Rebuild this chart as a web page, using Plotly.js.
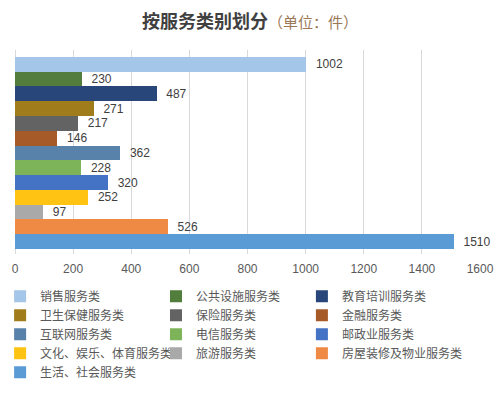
<!DOCTYPE html>
<html>
<head>
<meta charset="utf-8">
<script src="https://cdn.plot.ly/plotly-3.0.1.min.js"></script>
<style>html,body{margin:0;padding:0;background:#fff;}#chart{width:500px;height:398px;}</style>
</head>
<body>
<div id="chart"></div>
<script>
var categories = ["销售服务类","公共设施服务类","教育培训服务类","卫生保健服务类","保险服务类","金融服务类","互联网服务类","电信服务类","邮政业服务类","文化、娱乐、体育服务类","旅游服务类","房屋装修及物业服务类","生活、社会服务类"];
var values = [1002, 230, 487, 271, 217, 146, 362, 228, 320, 252, 97, 526, 1510];
var colors = ["#a4c6e8","#527d3c","#284679","#a07d1a","#636363","#a65a28","#5882aa","#7db45a","#4472c4","#ffc313","#a9a9a9","#ee8a44","#5b9bd5"];
var xTicks = [0,200,400,600,800,1000,1200,1400,1600];
// legend column each entry belongs to (3-column legend, filled row by row)
var legendCols = ["legend","legend2","legend3","legend","legend2","legend3","legend","legend2","legend3","legend","legend2","legend3","legend"];

var FONT = "Liberation Sans, Arial, 'Noto Sans CJK SC', sans-serif";
var CJK = "'Noto Sans CJK SC', sans-serif";
var traces = categories.map(function(c, i){
  return {
    type: 'bar', orientation: 'h',
    name: c, y: [c], x: [values[i]],
    marker: {color: colors[i]},
    texttemplate: '\u00a0\u00a0%{x}',
    textposition: 'outside', cliponaxis: false,
    textfont: {size: 12, color: '#404040', family: FONT},
    legend: legendCols[i],
    hoverinfo: 'x+name'
  };
});

function legendAt(x){
  return {
    orientation: 'v', x: x, xanchor: 'left', y: -0.136, yanchor: 'top',
    font: {size: 12, color: '#595959', family: FONT},
    traceorder: 'normal', bgcolor: 'rgba(0,0,0,0)', borderwidth: 0
  };
}

var layout = {
  width: 500, height: 398,
  margin: {l: 15, r: 20, t: 50, b: 144, autoexpand: false},
  paper_bgcolor: '#fff', plot_bgcolor: '#fff',
  font: {family: FONT, color: '#595959', size: 12},
  title: {
    text: '<b>按服务类别划分</b><span style="font-size:15px;fill:#9a7856">（单位：件）</span>',
    font: {size: 18, color: '#404040', family: CJK},
    x: 0.5, xref: 'container', xanchor: 'center',
    y: 0.945, yref: 'container', yanchor: 'middle'
  },
  barmode: 'overlay', bargap: 0,
  xaxis: {
    range: [0, 1600], tickvals: xTicks, ticktext: xTicks.map(String),
    showgrid: true, gridcolor: '#d9d9d9', gridwidth: 1,
    zeroline: true, zerolinecolor: '#d9d9d9', showline: false,
    ticks: 'outside', ticklen: 4, tickcolor: 'rgba(0,0,0,0)',
    tickfont: {size: 12, color: '#595959'}
  },
  yaxis: {
    type: 'category', categoryorder: 'array', categoryarray: categories,
    range: [12.84, -0.97], showticklabels: false, showgrid: false,
    zeroline: false, showline: false, ticks: ''
  },
  showlegend: true,
  legend: legendAt(-0.032),
  legend2: legendAt(0.3032),
  legend3: legendAt(0.617)
};

Plotly.newPlot('chart', traces, layout, {displayModeBar: false, staticPlot: true});
</script>
</body>
</html>
